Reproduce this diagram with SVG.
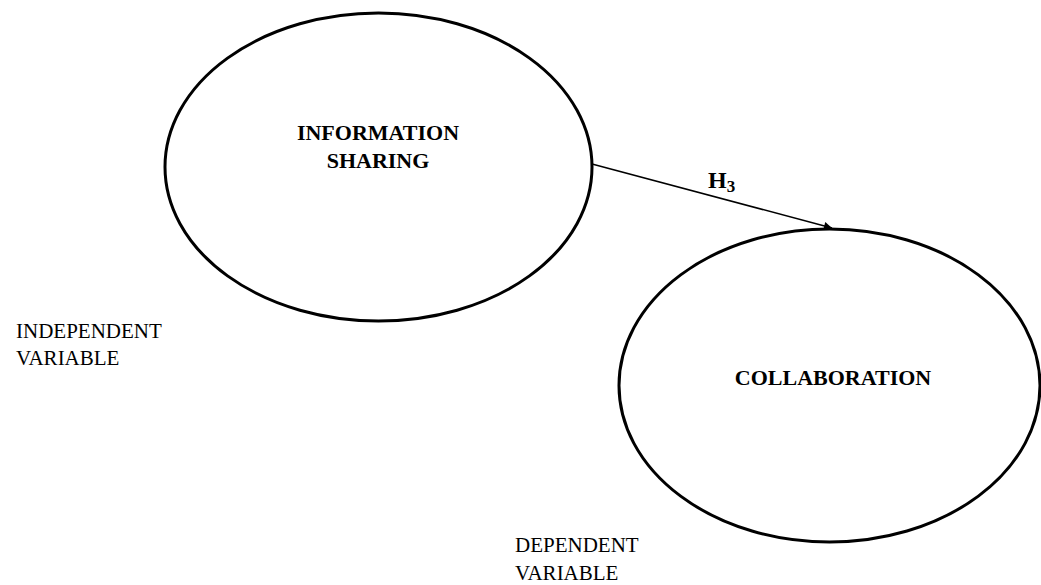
<svg xmlns="http://www.w3.org/2000/svg" width="1041" height="585" viewBox="0 0 1041 585">
  <style>
    .node { fill: #ffffff; stroke: #000000; stroke-width: 3; }
    .title { font-family: "Liberation Serif", "Times New Roman", serif; font-weight: bold; font-size: 22px; fill: #000; text-anchor: middle; }
    .note { font-family: "Liberation Serif", "Times New Roman", serif; font-size: 21px; fill: #000; }
    .hyp { font-family: "Liberation Serif", "Times New Roman", serif; font-weight: bold; font-size: 24px; fill: #000; }
    .edge { stroke: #000; stroke-width: 1.5; fill: none; }
  </style>
  <defs>
    <marker id="arrow" viewBox="0 0 10 10" refX="10" refY="5" markerWidth="10" markerHeight="8" markerUnits="userSpaceOnUse" orient="auto">
      <path d="M0,0 L10,5 L0,10 z" fill="#000"/>
    </marker>
  </defs>

  <rect width="1041" height="585" fill="#ffffff"/>

  <g id="connectors">
    <line class="edge" x1="592" y1="164" x2="832" y2="228" marker-end="url(#arrow)"/>
    <text class="hyp" x="708" y="188">H<tspan font-size="17" dy="4">3</tspan></text>
  </g>

  <g id="information-sharing">
    <ellipse class="node" cx="378.5" cy="167" rx="213.5" ry="154"/>
    <text class="title" x="378" y="140">INFORMATION</text>
    <text class="title" x="378" y="168">SHARING</text>
  </g>

  <g id="collaboration">
    <ellipse class="node" cx="829.5" cy="385.5" rx="210.5" ry="156.5"/>
    <text class="title" x="833" y="385">COLLABORATION</text>
  </g>

  <g id="independent-label">
    <text class="note" x="16" y="338">INDEPENDENT</text>
    <text class="note" x="16" y="365">VARIABLE</text>
  </g>

  <g id="dependent-label">
    <text class="note" x="515" y="552">DEPENDENT</text>
    <text class="note" x="515" y="580">VARIABLE</text>
  </g>
</svg>
